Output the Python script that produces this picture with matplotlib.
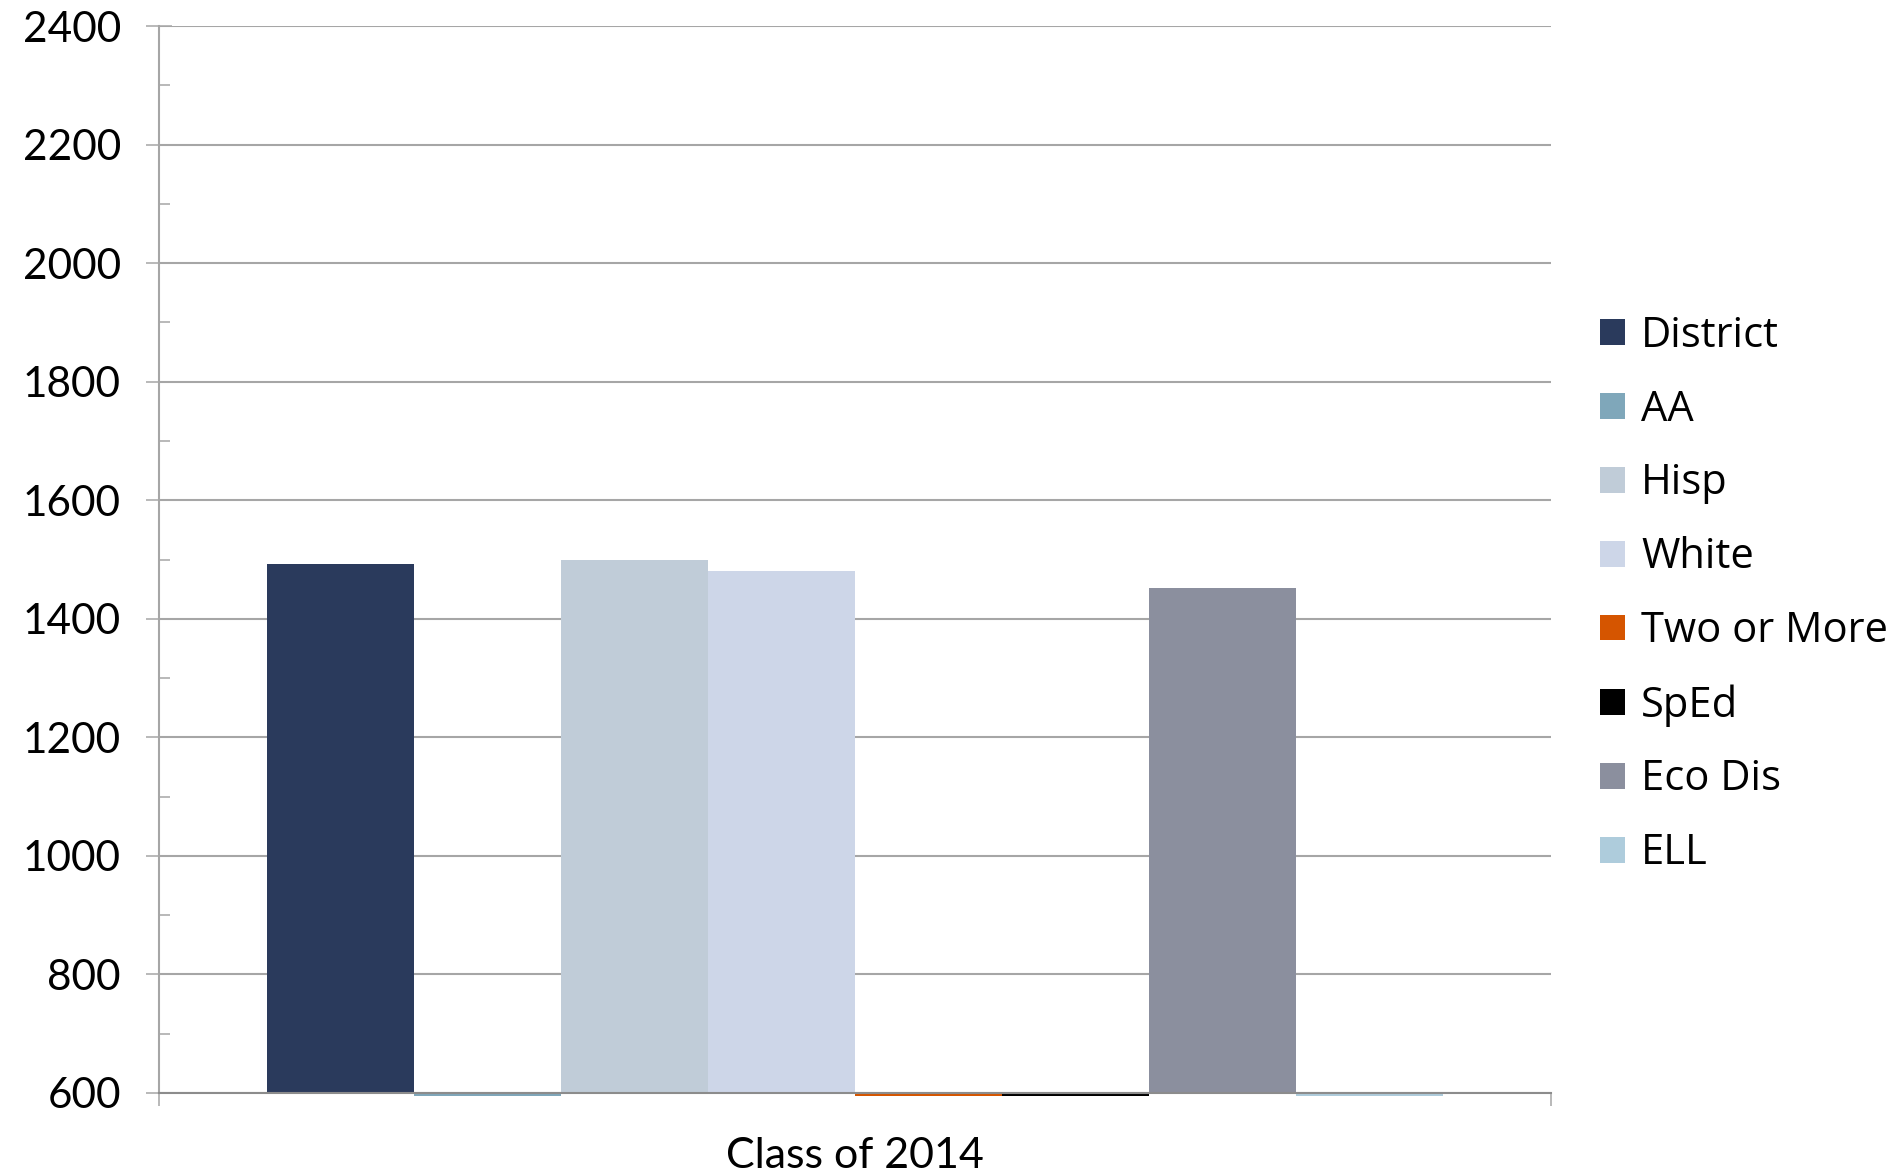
import matplotlib
matplotlib.use("Agg")
import matplotlib.pyplot as plt
import numpy as np

categories = ["Class of 2014"]
series = ["District", "AA", "Hisp", "White", "Two or More", "SpEd", "Eco Dis", "ELL"]
values = [1492, 0, 1499, 1481, 0, 0, 1452, 0]
colors = ["#2A3A5C", "#7FA7BA", "#C0CCD8", "#CDD6E8", "#D55500", "#000000", "#8B8F9E", "#AECCDC"]
yticks = [600, 800, 1000, 1200, 1400, 1600, 1800, 2000, 2200, 2400]

W, H = 1903, 1175
fig = plt.figure(figsize=(W / 100, H / 100), dpi=100)
ax = fig.add_axes([159 / W, 1 - 1093 / H, (1551 - 159) / W, (1093 - 26) / H])

ymin, ymax = 600, 2400
group = 0.845
bw = group / len(series)
stub = -5  # values below the axis minimum show as a thin sliver under the axis
grid_c = "#A6A6A6"

for i, (name, v, c) in enumerate(zip(series, values, colors)):
    x = -group / 2 + bw * (i + 0.5)
    h = v - ymin if v >= ymin else stub
    ax.bar(x, h, width=bw, bottom=ymin, color=c, label=name, zorder=3,
           clip_on=(v >= ymin), linewidth=0)

ax.set_xlim(-0.5, 0.5)
ax.set_ylim(ymin, ymax)
ax.set_yticks(yticks)
ax.set_yticks(np.arange(700, 2400, 200), minor=True)
ax.yaxis.grid(True, which="major", color=grid_c, linewidth=1.5, zorder=0)
ax.set_axisbelow(True)

ax.set_xticks([0])
ax.set_xticklabels(categories)
ax.set_xticks([-0.5, 0.5], minor=True)

for s in ["top", "right"]:
    ax.spines[s].set_visible(False)
for s in ["left", "bottom"]:
    ax.spines[s].set_color(grid_c)
    ax.spines[s].set_linewidth(1.5)
ax.spines["bottom"].set_color("#8C8C8C")
ax.spines["bottom"].set_zorder(4)

tickfont = "Lato"
ax.tick_params(axis="y", which="major", direction="inout", length=19, width=1.1,
               color=grid_c, pad=18, labelsize=30.5, labelcolor="black")
ax.tick_params(axis="y", which="minor", direction="in", length=8, width=1.1, color=grid_c)
ax.tick_params(axis="x", which="major", length=0, pad=32, labelsize=31)
ax.tick_params(axis="x", which="minor", direction="out", length=9, width=1.1, color=grid_c)
for lab in ax.get_yticklabels() + ax.get_xticklabels():
    lab.set_fontfamily(tickfont)

leg = ax.legend(loc="center left", bbox_to_anchor=(1600 / W, 0.494),
                bbox_transform=fig.transFigure, frameon=False, borderpad=0,
                borderaxespad=0, handlelength=0.61, handleheight=0.58,
                handletextpad=0.38, labelspacing=0.765,
                prop={"family": "Open Sans", "size": 30})

fig.savefig("out.png", dpi=100)
